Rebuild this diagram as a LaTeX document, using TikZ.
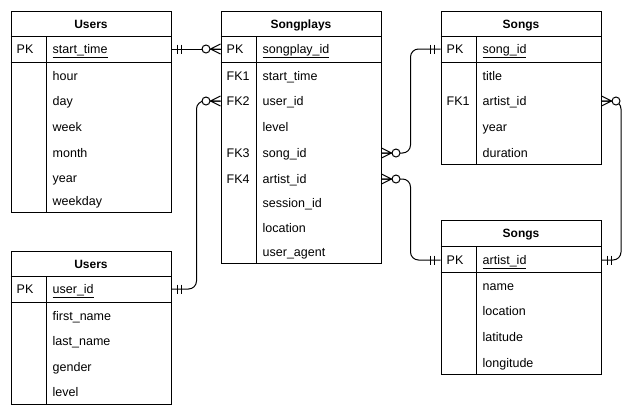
\documentclass[tikz,border=0pt]{standalone}
\usepackage{fontspec}
\setmainfont{Liberation Sans}
\usetikzlibrary{calc}
\tikzset{
  tbox/.style={draw, line width=1pt, inner sep=0pt, anchor=north west},
  ttitle/.style={font=\fontsize{12}{14}\selectfont\bfseries, inner sep=0pt, text height=10.9pt, text depth=2.5pt},
  ktxt/.style={font=\fontsize{12.5}{14}\selectfont, anchor=west, inner sep=0pt, text height=10.9pt, text depth=2.5pt},
  ntxt/.style={font=\fontsize{12.5}{14}\selectfont, anchor=west, inner sep=0pt, text height=10.9pt, text depth=2.5pt},
  sepline/.style={line width=1pt},
  conn/.style={line width=1pt, rounded corners=8pt},
  pics/onlyone/.style={code={
    \draw[line width=1pt] (6,-4.5) -- (6,4.5) (10,-4.5) -- (10,4.5);}},
  pics/zeromany/.style={code={
    \draw[line width=1pt] (0,-5) -- (10,0) -- (0,5) (0,0) -- (10,0);
    \draw[line width=1pt, fill=white] (14.5,0) circle[radius=4pt];}},
}
\newcommand{\ertab}[5]{%
  \node[tbox, minimum width=160pt, minimum height=#4pt] (#1) at (#2,#3) {};
  \node[ttitle] (#1t) at ($(#1.north)+(0,13.5)$) {#5};
  \draw[sepline] ($(#1.north west)+(0,26)$) -- ($(#1.north east)+(0,26)$);
  \draw[sepline] ($(#1.north west)+(0,52)$) -- ($(#1.north east)+(0,52)$);
  \draw[sepline] ($(#1.north west)+(36,26)$) -- ($(#1.south west)+(36,0)$);
}
\newcommand{\errow}[5]{%
  \node[ktxt] (#1k) at (#2+6,#3) {#4};
  \node[ntxt] (#1) at (#2+42,#3) {#5};
}
\begin{document}
\begin{tikzpicture}[x=1pt,y=-1pt]
\useasboundingbox (0,0) rectangle (642,418);
% tables
\ertab{u1}{10.5}{10.5}{201.5}{Users}
\ertab{sp}{220.5}{10.5}{252.5}{Songplays}
\ertab{so}{440.5}{10.5}{153.5}{Songs}
\ertab{ar}{440.5}{220}{154}{Songs}
\ertab{u2}{10.5}{250.5}{153.5}{Users}
% Users (time)
\errow{u1r0}{10.5}{49}{PK}{\underline{start\_time}}
\errow{u1r1}{10.5}{76}{}{hour}
\errow{u1r2}{10.5}{101}{}{day}
\errow{u1r3}{10.5}{127}{}{week}
\errow{u1r4}{10.5}{153}{}{month}
\errow{u1r5}{10.5}{178}{}{year}
\errow{u1r6}{10.5}{201}{}{weekday}
% Songplays
\errow{spr0}{220.5}{49}{PK}{\underline{songplay\_id}}
\errow{spr1}{220.5}{76}{FK1}{start\_time}
\errow{spr2}{220.5}{101}{FK2}{user\_id}
\errow{spr3}{220.5}{127}{}{level}
\errow{spr4}{220.5}{153}{FK3}{song\_id}
\errow{spr5}{220.5}{179}{FK4}{artist\_id}
\errow{spr6}{220.5}{203}{}{session\_id}
\errow{spr7}{220.5}{228}{}{location}
\errow{spr8}{220.5}{252}{}{user\_agent}
% Songs
\errow{sor0}{440.5}{49}{PK}{\underline{song\_id}}
\errow{sor1}{440.5}{76}{}{title}
\errow{sor2}{440.5}{101}{FK1}{artist\_id}
\errow{sor3}{440.5}{127}{}{year}
\errow{sor4}{440.5}{153}{}{duration}
% Artists
\errow{arr0}{440.5}{260}{PK}{\underline{artist\_id}}
\errow{arr1}{440.5}{286}{}{name}
\errow{arr2}{440.5}{311}{}{location}
\errow{arr3}{440.5}{337}{}{latitude}
\errow{arr4}{440.5}{363}{}{longitude}
% Users
\errow{u2r0}{10.5}{289}{PK}{\underline{user\_id}}
\errow{u2r1}{10.5}{316}{}{first\_name}
\errow{u2r2}{10.5}{341}{}{last\_name}
\errow{u2r3}{10.5}{367}{}{gender}
\errow{u2r4}{10.5}{392}{}{level}
% connectors
\draw[conn] (u1r0 -| u1.east) -- (spr0 -| sp.west);
\draw[conn] (u2r0 -| u2.east) -- ++(25,0) |- (spr2 -| sp.west);
\draw[conn] (spr4 -| sp.east) -- ++(29,0) |- (sor0 -| so.west);
\draw[conn] (spr5 -| sp.east) -- ++(29,0) |- (arr0 -| ar.west);
\draw[conn] (sor2 -| so.east) -- ++(19.5,0) |- (arr0 -| ar.east);
% end marks
\pic at (u1r0 -| u1.east) {onlyone};
\pic[xscale=-1] at (spr0 -| sp.west) {zeromany};
\pic at (u2r0 -| u2.east) {onlyone};
\pic[xscale=-1] at (spr2 -| sp.west) {zeromany};
\pic at (spr4 -| sp.east) {zeromany};
\pic[xscale=-1] at (sor0 -| so.west) {onlyone};
\pic at (spr5 -| sp.east) {zeromany};
\pic[xscale=-1] at (arr0 -| ar.west) {onlyone};
\pic at (sor2 -| so.east) {zeromany};
\pic at (arr0 -| ar.east) {onlyone};
\end{tikzpicture}
\end{document}
